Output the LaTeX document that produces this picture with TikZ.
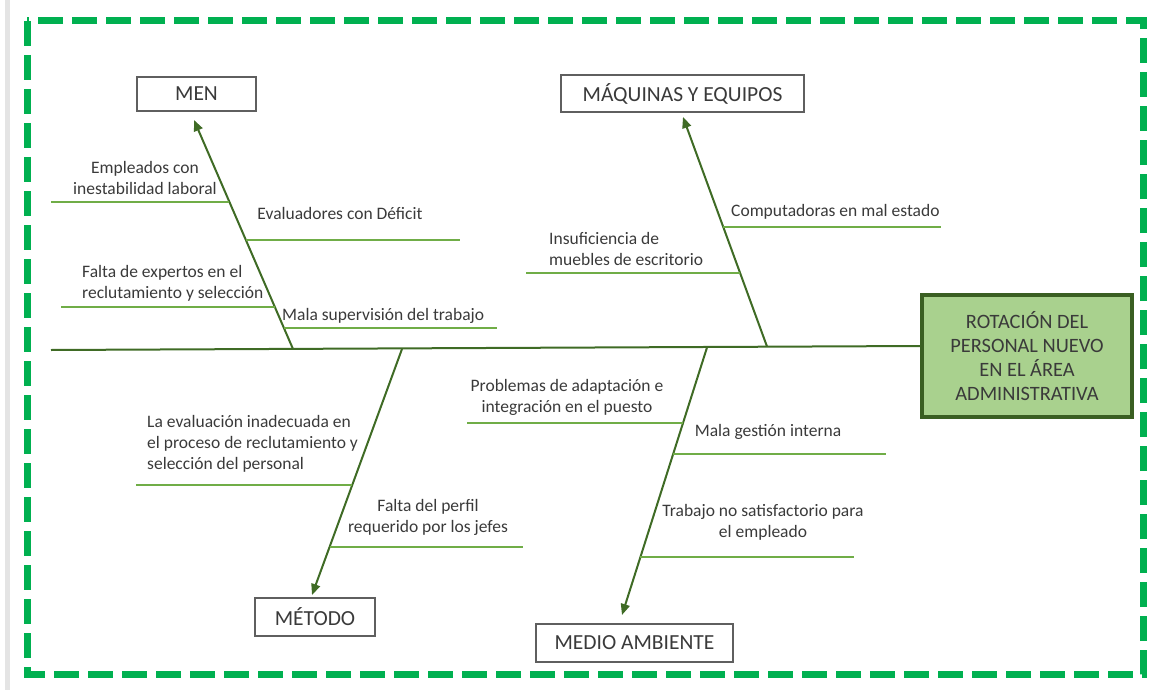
\documentclass[tikz,border=0pt]{standalone}
\usepackage{fontspec}
\setmainfont{Carlito}
\usetikzlibrary{arrows.meta,calc}
\definecolor{frameGreen}{HTML}{00B050}
\definecolor{boneGreen}{HTML}{3F6B25}
\definecolor{twigGreen}{HTML}{70AD47}
\definecolor{effectFill}{HTML}{A9D18E}
\definecolor{effectLine}{HTML}{3A5F22}
\definecolor{inkGray}{HTML}{3A3A3A}
\definecolor{boxLine}{HTML}{5F5F5F}
\definecolor{marginGray}{HTML}{E4E4E4}
\tikzset{
  category/.style={draw=boxLine, line width=1.3pt, fill=white, text=inkGray,
    font=\fontsize{21.5}{25}\selectfont, inner sep=0pt},
  effectbox/.style={draw=effectLine, line width=3.5pt, fill=effectFill, text=inkGray,
    font=\fontsize{20.4}{23.7}\selectfont, align=center, inner sep=0pt,
    minimum width=210pt, minimum height=122pt},
  bone/.style={draw=boneGreen, line width=2pt, -{Triangle[length=11pt,width=9pt]}},
  spineline/.style={draw=boneGreen, line width=2pt},
  twig/.style={draw=twigGreen, line width=2pt},
  cause/.style={text=inkGray, font=\fontsize{17.5}{21}\selectfont, inner sep=0pt},
}
\begin{document}
\begin{tikzpicture}[x=1pt,y=-1pt]
\useasboundingbox (0,0) rectangle (1159,690);
% page margin stripe and dashed frame
\fill[marginGray] (5,0) rectangle (10,690);
\draw[frameGreen, line width=7pt, dash pattern=on 25pt off 9pt] (27,21) rectangle (1143,674);

% effect and category boxes
\node[effectbox] (effect) at (1027,356) {ROTACIÓN DEL\\PERSONAL NUEVO\\EN EL ÁREA\\ADMINISTRATIVA};
\node[category, minimum width=119pt, minimum height=34pt] (men) at (196.5,94) {MEN};
\node[category, minimum width=243pt, minimum height=37pt] (maq) at (682.5,93.5) {MÁQUINAS Y EQUIPOS};
\node[category, minimum width=120pt, minimum height=38pt] (met) at (315,617) {MÉTODO};
\node[category, minimum width=197pt, minimum height=38pt] (med) at (634.5,643) {MEDIO AMBIENTE};

% spine
\coordinate (spineL) at (51,350);
\coordinate (spineR) at ($(effect.west)+(0,-10)$);
\draw[spineline] (spineL) -- (spineR);

% main bones: start on the spine, tip just short of each category box
\coordinate (menRoot) at (293,349);
\coordinate (menTip)  at (194,120);
\coordinate (maqRoot) at (767,346.5);
\coordinate (maqTip)  at (683,117);
\coordinate (metRoot) at (402,349);
\coordinate (metTip)  at (312,595);
\coordinate (medRoot) at (707,347.5);
\coordinate (medTip)  at (622,615);
\draw[bone] (menRoot) -- (menTip);
\draw[bone] (maqRoot) -- (maqTip);
\draw[bone] (metRoot) -- (metTip);
\draw[bone] (medRoot) -- (medTip);

% MEN causes
\coordinate (m1a) at (229,202); \coordinate (m1b) at (51,202);
\coordinate (m2a) at (246,240); \coordinate (m2b) at (460,240);
\coordinate (m3a) at (275,307); \coordinate (m3b) at (61,307);
\coordinate (m4a) at (284,328); \coordinate (m4b) at (497,328);
\draw[twig] (m1a) -- (m1b);
\draw[twig] (m2a) -- (m2b);
\draw[twig] (m3a) -- (m3b);
\draw[twig] (m4a) -- (m4b);
\node[cause, align=center] (m1t) at (145,178) {Empleados con\\inestabilidad laboral};
\node[cause] (m2t) at (340,213) {Evaluadores con Déficit};
\node[cause, align=left, anchor=west] (m3t) at (82,283) {Falta de expertos en el\\reclutamiento y selección};
\node[cause, anchor=west] (m4t) at (282,316) {Mala supervisión del trabajo};

% MAQUINAS causes
\coordinate (q1a) at (723,227); \coordinate (q1b) at (941,227);
\coordinate (q2a) at (740,273); \coordinate (q2b) at (526,273);
\draw[twig] (q1a) -- (q1b);
\draw[twig] (q2a) -- (q2b);
\node[cause, anchor=west] (q1t) at (731,212) {Computadoras en mal estado};
\node[cause, align=left, anchor=west] (q2t) at (549,249) {Insuficiencia de\\muebles de escritorio};

% METODO causes
\coordinate (t1a) at (352,485); \coordinate (t1b) at (136,485);
\coordinate (t2a) at (330,547); \coordinate (t2b) at (523,547);
\draw[twig] (t1a) -- (t1b);
\draw[twig] (t2a) -- (t2b);
\node[cause, align=left, anchor=west] (t1t) at (147,443.5) {La evaluación inadecuada en\\el proceso de reclutamiento y\\selección del personal};
\node[cause, align=center] (t2t) at (428,517) {Falta del perfil\\requerido por los jefes};

% MEDIO AMBIENTE causes
\coordinate (a1a) at (683,423); \coordinate (a1b) at (467,423);
\coordinate (a2a) at (673,454); \coordinate (a2b) at (886,454);
\coordinate (a3a) at (640,557); \coordinate (a3b) at (854,557);
\draw[twig] (a1a) -- (a1b);
\draw[twig] (a2a) -- (a2b);
\draw[twig] (a3a) -- (a3b);
\node[cause, align=center] (a1t) at (567,397) {Problemas de adaptación e\\integración en el puesto};
\node[cause] (a2t) at (768,432) {Mala gestión interna};
\node[cause, align=center] (a3t) at (763,522) {Trabajo no satisfactorio para\\el empleado};
\end{tikzpicture}
\end{document}
